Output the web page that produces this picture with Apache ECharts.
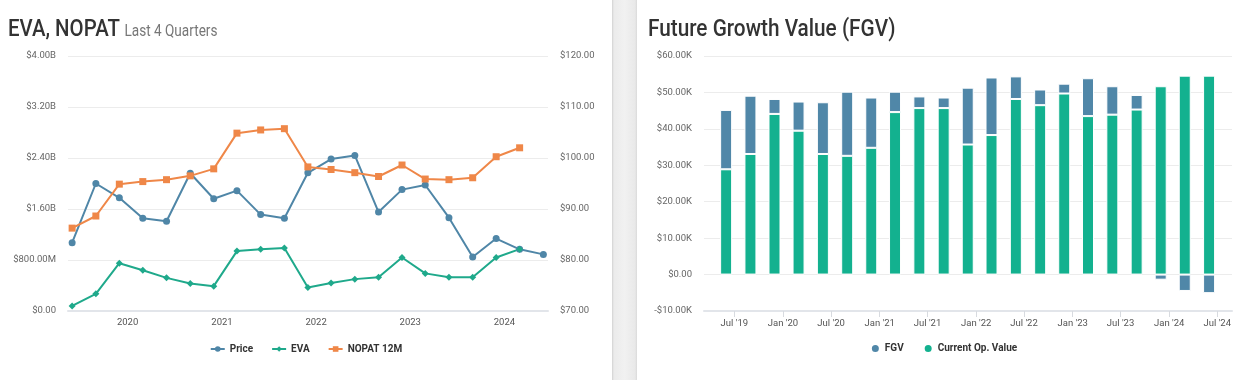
<!DOCTYPE html>
<html><head><meta charset="utf-8">
<script src="https://cdn.jsdelivr.net/npm/echarts@6/dist/echarts.min.js"></script>
<style>
html,body{margin:0;padding:0;background:#fff;width:1250px;height:380px;overflow:hidden;font-family:Roboto,sans-serif}
#left{position:absolute;left:0;top:0;width:612px;height:380px}
#right{position:absolute;left:637px;top:0;width:613px;height:380px}
#divider{position:absolute;left:612px;top:0;width:25px;height:380px;background:linear-gradient(to right,#d2d2d2 0,#ebebeb 2px,#f1f1f1 50%,#e9e9e9 calc(100% - 2px),#dadada 100%)}
.title{position:absolute;top:13px;white-space:nowrap;transform-origin:0 0;transform:scaleX(0.85);color:#333;font-size:24px;font-weight:500;line-height:30px}
.sub{font-size:16px;color:#777;font-weight:400}
</style></head>
<body>
<div id="left"></div><div id="divider"></div><div id="right"></div>
<div class="title" style="left:8px">EVA, NOPAT <span class="sub">Last 4 Quarters</span></div>
<div class="title" style="left:648px;transform:scaleX(0.865)">Future Growth Value (FGV)</div>
<script>
// ---- Left chart data ----
const lineDates = ['2019-05-31','2019-08-31','2019-11-30','2020-02-29','2020-05-31','2020-08-31','2020-11-30','2021-02-28','2021-05-31','2021-08-31','2021-11-30','2022-02-28','2022-05-31','2022-08-31','2022-11-30','2023-02-28','2023-05-31','2023-08-31','2023-11-30','2024-02-29','2024-05-31'];
const price = [83.4,95.0,92.2,88.2,87.6,97.0,92.0,93.6,88.9,88.2,97.1,99.8,100.5,89.4,93.8,94.7,88.3,80.6,84.2,82.1,81.1];
const evaB = [0.08,0.27,0.75,0.64,0.52,0.43,0.39,0.94,0.97,0.99,0.37,0.44,0.50,0.53,0.84,0.59,0.53,0.53,0.84,0.97];
const nopatB = [1.30,1.49,1.99,2.03,2.06,2.12,2.23,2.79,2.84,2.86,2.26,2.22,2.17,2.11,2.29,2.07,2.06,2.09,2.42,2.56];
const yearTicks = ['2020-01-01','2021-01-01','2022-01-01','2023-01-01','2024-01-01'];

// ---- Right chart data ----
const barDates = ['2019-05-31','2019-08-31','2019-11-30','2020-02-29','2020-05-31','2020-08-31','2020-11-30','2021-02-28','2021-05-31','2021-08-31','2021-11-30','2022-02-28','2022-05-31','2022-08-31','2022-11-30','2023-02-28','2023-05-31','2023-08-31','2023-11-30','2024-02-29','2024-05-31'];
const currentOpValueK = [28.9,33.1,44.1,39.5,33.1,32.6,34.8,44.6,45.7,45.7,35.7,38.3,48.2,46.5,49.7,43.5,43.9,45.3,51.7,54.6,54.6];
const fgvK = [16.3,16.0,4.1,8.0,14.2,17.6,13.8,5.6,3.2,2.9,15.6,15.8,6.2,4.3,2.7,10.4,7.8,4.0,-1.4,-4.5,-5.1];
const halfYearTicks = ['2019-07-01','2020-01-01','2020-07-01','2021-01-01','2021-07-01','2022-01-01','2022-07-01','2023-01-01','2023-07-01','2024-01-01','2024-07-01'];

const ts = s => Date.parse(s);
const pairs = (d, v) => v.map((y, i) => [ts(d[i]), y]);

const C_PRICE = '#4f86a7', C_EVA = '#1fa98b', C_NOPAT = '#ef8748';
const C_FGV = '#5087a8', C_COV = '#13b18f';
const labelStyle = {color:'#666', fontSize:9.5, fontFamily:'Roboto'};
const DAY = 86400000;

const left = echarts.init(document.getElementById('left'));
left.setOption({
  animation:false,
  grid:{left:68, right:64, top:56, bottom:69},
  legend:{
    bottom:21, left:'center', itemWidth:14, itemHeight:7, itemGap:18,
    textStyle:{color:'#333', fontSize:10, fontWeight:'bold', fontFamily:'Roboto'},
    data:['Price','EVA','NOPAT 12M']
  },
  xAxis:{
    type:'value', min:ts('2019-05-15'), max:ts('2024-06-18'), scale:true,
    splitLine:{show:false},
    axisTick:{show:false},
    axisLine:{onZero:false, lineStyle:{color:'#e2e5ea', width:2}},
    axisLabel:Object.assign({}, labelStyle, {color:'#555', margin:7,
      customValues: yearTicks.map(ts),
      formatter: v => String(new Date(v).getUTCFullYear())})
  },
  yAxis:[{
    type:'value', min:0, max:4, interval:0.8,
    axisLine:{show:false}, axisTick:{show:false},
    splitLine:{lineStyle:{color:'#ececec'}},
    axisLabel:Object.assign({}, labelStyle, {margin:12,
      formatter: v => v === 0 ? '$0.00' : (v >= 1 ? '$' + v.toFixed(2) + 'B' : '$' + (v*1000).toFixed(2) + 'M')})
  },{
    type:'value', min:70, max:120, interval:10, position:'right',
    axisLine:{show:false}, axisTick:{show:false}, splitLine:{show:false},
    axisLabel:Object.assign({}, labelStyle, {margin:12, formatter: v => '$' + v.toFixed(2)})
  }],
  series:[
    {name:'Price', type:'line', yAxisIndex:1, data:pairs(lineDates, price), color:C_PRICE,
     symbol:'circle', symbolSize:7, lineStyle:{width:2}},
    {name:'EVA', type:'line', yAxisIndex:0, data:pairs(lineDates, evaB), color:C_EVA,
     symbol:'diamond', symbolSize:7, lineStyle:{width:2}},
    {name:'NOPAT 12M', type:'line', yAxisIndex:0, data:pairs(lineDates, nopatB), color:C_NOPAT,
     symbol:'rect', symbolSize:7, lineStyle:{width:2}}
  ]
});

const months = ['Jan','Feb','Mar','Apr','May','Jun','Jul','Aug','Sep','Oct','Nov','Dec'];
const halfSet = new Set(halfYearTicks.map(ts));
const right = echarts.init(document.getElementById('right'));
right.setOption({
  animation:false,
  grid:{left:67, right:18, top:56, bottom:69},
  legend:{
    bottom:21, left:'center', icon:'circle', itemWidth:9, itemHeight:9, itemGap:19,
    textStyle:{color:'#333', fontSize:10, fontWeight:'bold', fontFamily:'Roboto'},
    data:['FGV','Current Op. Value']
  },
  xAxis:{
    type:'time', min:ts('2019-03-31'), max:ts('2024-08-03'),
    minInterval:182.5*DAY, maxInterval:182.5*DAY,
    splitLine:{show:false},
    axisTick:{show:true, length:6, lineStyle:{color:'#d8dbe0'}},
    axisLine:{onZero:false, lineStyle:{color:'#e2e5ea', width:2}},
    axisLabel:Object.assign({}, labelStyle, {color:'#555', margin:8,
      showMinLabel:false, showMaxLabel:false, hideOverlap:false,
      formatter: v => { if (!halfSet.has(v)) return ''; const d = new Date(v); return months[d.getUTCMonth()] + " '" + String(d.getUTCFullYear()).slice(2); }})
  },
  yAxis:{
    type:'value', min:-10, max:60, interval:10,
    axisLine:{show:false}, axisTick:{show:false},
    splitLine:{lineStyle:{color:'#ececec'}},
    axisLabel:Object.assign({}, labelStyle, {margin:12,
      formatter: v => v === 0 ? '$0.00' : (v < 0 ? '-$' + (-v).toFixed(2) + 'K' : '$' + v.toFixed(2) + 'K')})
  },
  series:[
    {name:'Current Op. Value', type:'bar', stack:'v', barWidth:12, data:pairs(barDates, currentOpValueK), color:C_COV,
     itemStyle:{borderColor:'#ffffff', borderWidth:1}},
    {name:'FGV', type:'bar', stack:'v', barWidth:12, data:pairs(barDates, fgvK), color:C_FGV,
     itemStyle:{borderColor:'#ffffff', borderWidth:1}}
  ]
});
</script>
</body></html>
